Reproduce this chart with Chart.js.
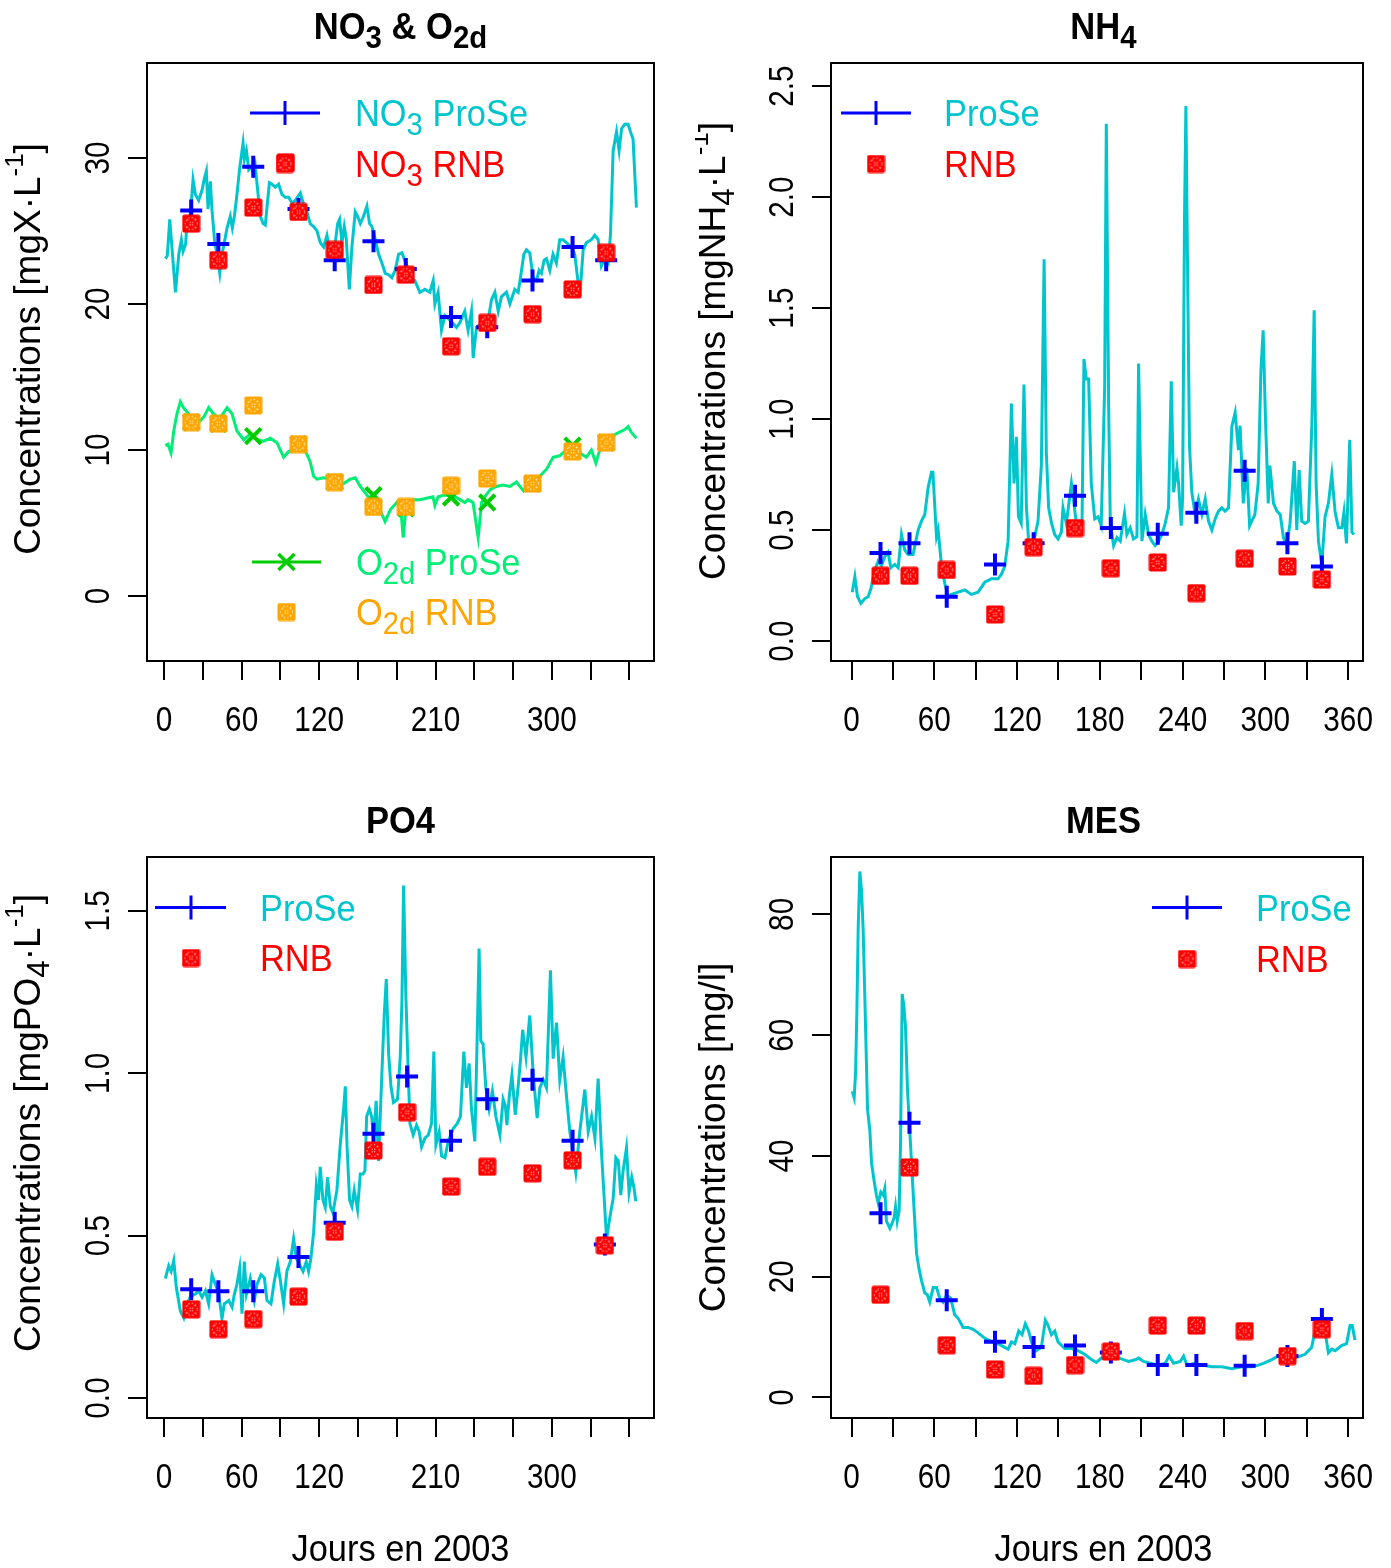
<!DOCTYPE html>
<html lang="fr">
<head>
<meta charset="utf-8">
<title>ProSe / RNB 2003</title>
<script src="https://cdn.jsdelivr.net/npm/chart.js@4.4.1/dist/chart.umd.min.js"></script>
<style>
  html, body { margin: 0; padding: 0; background: #fff; }
  #page { position: relative; width: 1391px; height: 1568px; overflow: hidden; }
  #page canvas { position: absolute; }
</style>
</head>
<body>
<div id="page">
  <canvas id="pNO3" width="695" height="784" style="left:0;top:0"></canvas>
  <canvas id="pNH4" width="696" height="784" style="left:695px;top:0"></canvas>
  <canvas id="pPO4" width="695" height="784" style="left:0;top:784px"></canvas>
  <canvas id="pMES" width="696" height="784" style="left:695px;top:784px"></canvas>
</div>
<script>
// =====================================================
// DATA
// =====================================================
const dayTicks = [0, 30, 60, 90, 120, 150, 180, 210, 240, 270, 300, 330, 360];
const dayLabelsLeft = [0, 60, 120, 210, 300];
const dayLabelsRight = [0, 60, 120, 180, 240, 300, 360];
const yTicksNO3 = [0, 10, 20, 30];
const yTicksNH4 = [0, 0.5, 1, 1.5, 2, 2.5];
const yTicksPO4 = [0, 0.5, 1, 1.5];
const yTicksMES = [0, 20, 40, 60, 80];

// sampling days (RNB stations)
const obsDaysNO3 = [21, 42, 69, 94, 104, 132, 162, 187, 222, 250, 285, 316, 342];
const obsDays = [21, 42, 69, 104, 132, 162, 188, 222, 250, 285, 316, 341];

// NO3 & O2d
const no3Prose = [26.4, 24.1, 29.4, null, 26.5, 23.0, 24.3, 22.4, 19.1, 18.4, 21.6, 23.9, 23.0];
const no3Rnb = [25.5, 23.0, 26.6, 29.7, 26.3, 23.7, 21.3, 22.0, 17.1, 18.7, 19.3, 21.0, 23.5];
const o2Prose = [11.9, 11.8, 10.95, null, 10.4, 7.8, 6.9, 6.0, 6.75, 6.4, 7.7, 10.3, 10.5];
const o2Rnb = [11.9, 11.8, 13.05, null, 10.4, 7.8, 6.1, 6.1, 7.55, 8.05, 7.7, 9.9, 10.5];
// NH4
const nh4Prose = [0.397, 0.44, 0.199, 0.345, 0.44, 0.655, 0.509, 0.483, 0.578, 0.767, 0.44, 0.336];
const nh4Rnb = [0.294, 0.294, 0.32, 0.12, 0.423, 0.509, 0.328, 0.354, 0.216, 0.371, 0.336, 0.277];
// PO4
const po4Prose = [0.335, 0.329, 0.329, 0.434, 0.54, 0.814, 0.99, 0.792, 0.92, 0.98, 0.792, 0.473];
const po4Rnb = [0.273, 0.212, 0.243, 0.312, 0.512, 0.762, 0.88, 0.651, 0.712, 0.692, 0.732, 0.47];
// MES
const mesProse = [30.5, 45.5, 16.1, 9.24, 8.34, 8.6, 7.45, 5.36, 5.36, 5.25, 6.85, 13.0];
const mesRnb = [17.0, 38.1, 8.64, 4.65, 3.58, 5.36, 7.6, 11.9, 11.9, 11.0, 6.85, 11.3];

// simulated (ProSe) series, [day, value]
const no3Sim = [[1,23.1],[2.5,23.3],[4.4,25.8],[8.8,20.8],[11.4,23.4],[13.4,24.4],[14.7,23.6],[16.7,24.1],[17.6,25.5],[19.1,25.8],[20.4,26.2],[22.4,28.5],[24.2,27.5],[26.8,27.1],[29.4,27.8],[31.2,28.6],[32.7,29.1],[34,26.5],[35.8,28.4],[37.1,26.4],[39.2,24.2],[41,23.4],[43.1,22.1],[44.8,23.4],[46.6,24.2],[48.7,25.2],[51.2,26.0],[52.8,25.2],[54.4,26.0],[55.9,27.1],[58.5,29.3],[61.1,31.0],[62.1,29.9],[63.7,30.5],[65.5,29.2],[67.3,29.4],[69.3,28.9],[70.6,29.4],[72.4,27.8],[74.5,26.0],[76.6,25.5],[78.3,25.4],[79.6,26.6],[81.5,28.3],[83.5,28.2],[86,28.0],[88.6,28.2],[91.2,27.5],[93.8,27.3],[96.4,27.3],[99,26.9],[101.5,27.1],[105.4,27.6],[108,26.8],[110.6,26.3],[113.1,25.5],[115.7,25.3],[118.3,25.0],[120.8,24.2],[123.4,23.9],[126,24.7],[128,23.7],[129.9,23.4],[132.4,24.2],[134.3,25.5],[135.8,25.8],[137.6,24.2],[139.4,25.3],[140.9,24.5],[143.3,21.0],[145.3,23.9],[147.9,26.3],[149.7,26.0],[151.8,25.5],[154.3,26.0],[156.9,26.7],[159,25.5],[160.8,25.3],[163.4,24.4],[166,23.4],[168.5,22.8],[171.1,22.1],[173.7,22.0],[176.2,21.8],[178.8,22.3],[181.4,23.4],[184,23.5],[187.9,22.6],[190.2,21.8],[194,21.6],[197.9,20.8],[201.8,21.0],[205.6,20.8],[208.2,21.6],[209.5,20.0],[212,20.8],[214.6,18.2],[217.2,19.2],[221.1,18.9],[226.2,18.4],[228.7,18.7],[232.6,19.5],[235.2,18.2],[237.8,19.5],[239.1,16.3],[241.7,18.4],[245.6,18.7],[249.4,18.2],[253.3,20.3],[255.9,20.8],[258.5,19.5],[261,20.5],[264.9,20.8],[267.5,20.0],[271.3,21.0],[273.9,20.8],[275.7,21.8],[278.3,23.4],[280.3,23.7],[282.9,23.5],[285.5,21.8],[288.1,21.6],[290.1,22.3],[291.9,22.1],[294,23.0],[295.8,23.1],[298.4,22.3],[300.9,23.4],[303.5,22.8],[306.1,24.4],[308.7,24.4],[311.2,24.2],[315.1,23.9],[317.7,23.4],[321.6,20.5],[324.2,23.7],[326.7,24.2],[330.6,24.4],[333.2,24.7],[335.8,24.4],[338.3,22.6],[340.9,23.1],[343.5,22.8],[345.3,24.7],[347.4,30.5],[350,31.8],[352,30.5],[353.9,32.0],[356.4,32.3],[359,32.3],[360.8,31.8],[362.8,31.3],[365.4,26.6]];

const o2Sim = [[1,10.3],[3,10.4],[5.4,9.8],[7.5,11.3],[10,12.5],[12.6,13.3],[15,12.9],[17.8,12.6],[23,12.0],[28,12.0],[31,12.3],[34.5,12.9],[38,12.5],[42,12.2],[45,12.4],[48.7,12.9],[52.5,12.5],[56.4,11.3],[61.6,10.7],[66.8,11.1],[71.9,10.7],[77,10.6],[82.2,10.8],[87.4,10.5],[92.5,9.5],[96.4,9.9],[101.5,10.0],[105.4,10.3],[109,10.0],[113,9.2],[115.7,8.2],[118.3,8.0],[123.4,8.1],[128.6,8.0],[133.7,7.7],[138.9,7.7],[144,8.0],[147.9,8.1],[151.8,7.5],[157,6.9],[162,6.4],[167,5.9],[171,5.1],[175,5.9],[180,6.4],[183,6.1],[185,4.0],[187.5,6.4],[192.8,6.6],[198,6.6],[203,6.7],[208,6.8],[209.5,6.2],[212,6.8],[216,6.9],[220,6.9],[225,6.8],[229,6.6],[232.7,6.4],[235,6.6],[239,6.4],[243,4.0],[245.6,6.4],[248,6.8],[252.5,7.3],[257,7.5],[262,7.6],[267.5,7.5],[272.6,7.8],[278,7.2],[282,7.7],[286,7.8],[290.7,8.2],[296,8.7],[301,9.5],[306,9.6],[311.2,10.0],[316,9.8],[321.6,9.8],[326.7,9.5],[330.6,10.0],[334,9.1],[338.4,10.4],[342.2,10.5],[347.4,11.0],[352,11.2],[356.4,11.4],[359,11.6],[361.5,11.2],[365.4,10.8]];

const nh4Sim = [[0.5,0.22],[2.4,0.29],[4.3,0.2],[6.8,0.17],[9.5,0.19],[12.1,0.20],[14.2,0.24],[16.4,0.31],[19.3,0.36],[21.7,0.34],[24.1,0.38],[26.5,0.40],[28.5,0.33],[31.4,0.345],[33.8,0.33],[36.2,0.48],[38.6,0.41],[41,0.39],[44.6,0.39],[48.3,0.50],[50.7,0.54],[53.1,0.57],[55.5,0.69],[57.9,0.76],[59,0.76],[60.4,0.6],[61.6,0.47],[62.8,0.50],[64,0.42],[65.2,0.34],[67.6,0.26],[70,0.2],[72.4,0.21],[77.3,0.22],[82.1,0.23],[86.9,0.21],[91.7,0.22],[96.6,0.265],[101.4,0.28],[106.2,0.28],[108.6,0.30],[111,0.335],[113.5,0.45],[115.9,1.07],[117.8,0.71],[119.5,0.92],[121,0.56],[123,0.53],[125,1.155],[126.8,0.6],[128.4,0.45],[130.4,0.43],[132.8,0.47],[135.2,0.54],[137.6,0.79],[139.6,1.72],[141.2,0.85],[142.9,0.6],[145,0.53],[147.3,0.48],[149.7,0.46],[152.1,0.49],[153.3,0.60],[155.7,0.53],[159.4,0.71],[163,0.53],[165.4,0.53],[167.1,0.53],[168.5,1.27],[170.2,1.18],[171.9,1.18],[173.8,0.71],[176.3,0.55],[178.7,0.56],[181,0.52],[183.5,1.14],[184.7,2.33],[186.4,1.05],[187.6,0.53],[190,0.43],[192.4,0.466],[194.8,0.45],[197.9,0.575],[199.6,0.48],[202,0.51],[204.4,0.46],[206.9,0.47],[208.1,1.25],[209.3,0.83],[210.5,0.45],[212.9,0.57],[215.3,0.48],[217.7,0.45],[220.1,0.43],[222.5,0.45],[225,0.48],[227.4,0.53],[229.8,0.6],[231.8,1.17],[233.5,0.67],[235.9,0.78],[237.1,0.71],[239,0.52],[240,0.64],[241.4,1.91],[242.4,2.41],[243.8,1.57],[245,0.88],[246.7,0.67],[249.1,0.57],[251.5,0.64],[254,0.57],[256.4,0.64],[258.8,0.54],[261.2,0.50],[263.6,0.55],[266,0.585],[268.4,0.6],[270.8,0.585],[273.3,0.6],[275.7,0.966],[278.1,1.03],[280.5,0.86],[281.7,0.97],[284,0.62],[286.5,0.78],[288.6,0.52],[292.4,0.57],[294.8,0.71],[296.8,1.22],[298.4,1.40],[300.1,1.0],[302.1,0.62],[303.3,0.79],[305.9,0.62],[308.4,0.585],[310.8,0.57],[313.1,0.466],[315.5,0.43],[317.9,0.53],[321,0.81],[322.8,0.50],[324.5,0.77],[326.4,0.54],[328.8,0.53],[331.2,0.54],[333.7,0.97],[335.4,1.49],[336.8,0.71],[338.5,0.45],[340.9,0.345],[343.3,0.56],[345.7,0.62],[348.2,0.75],[350.6,0.58],[353,0.51],[355.5,0.51],[357,0.58],[358.8,0.44],[361.2,0.906],[362.8,0.49],[364.3,0.48]];

const po4Sim = [[1,0.368],[3.6,0.407],[5.5,0.39],[7.5,0.423],[9.5,0.34],[12.6,0.268],[15.2,0.247],[17.8,0.29],[20.4,0.312],[24.2,0.32],[26.8,0.33],[29.4,0.31],[32,0.33],[34.5,0.29],[37.1,0.379],[39.7,0.35],[42.3,0.32],[44.8,0.244],[46.6,0.29],[50,0.30],[52.6,0.28],[54.4,0.32],[56.4,0.35],[58.5,0.40],[60.3,0.26],[62.1,0.42],[63.7,0.32],[66.7,0.368],[69.8,0.30],[71.9,0.35],[75,0.38],[77.6,0.37],[79.6,0.30],[82.7,0.29],[85.3,0.36],[87.9,0.413],[90,0.36],[92.5,0.29],[95,0.39],[97.7,0.42],[100.2,0.49],[102.3,0.43],[104.9,0.41],[107.5,0.39],[110,0.42],[111.8,0.39],[113.6,0.43],[115.7,0.51],[117.8,0.656],[119.5,0.61],[120.8,0.712],[122.9,0.61],[124.7,0.587],[126.5,0.68],[128.6,0.59],[130.6,0.57],[133.7,0.64],[136.3,0.78],[138.9,0.89],[140.2,0.96],[141.5,0.78],[143.5,0.61],[145.3,0.59],[147.1,0.64],[149.7,0.58],[151.8,0.69],[153.9,0.69],[155.4,0.70],[156.7,0.867],[158.8,0.89],[160.6,0.867],[162,0.80],[164.1,0.915],[165.9,0.73],[168.5,1.0],[170.3,1.178],[171.9,1.29],[173.7,1.06],[175.5,0.96],[177.5,0.91],[180.6,0.92],[182.7,1.05],[184,1.22],[185.3,1.578],[187,1.245],[188.9,1.0],[190.2,0.845],[192.7,0.81],[195.3,0.84],[197.4,0.82],[199.2,0.773],[201.8,0.80],[204.4,0.81],[206.9,0.845],[208.7,1.067],[210.3,0.78],[212.8,0.82],[214.7,0.745],[217.3,0.74],[219.8,0.79],[223.7,0.83],[226.7,0.845],[229.3,0.867],[231.9,1.067],[233.9,0.955],[236,1.03],[237.8,0.89],[240.4,0.79],[242.2,1.11],[243.7,1.384],[245,1.10],[246.8,1.09],[248.9,0.955],[251.5,0.89],[254,0.945],[256.7,0.867],[259.8,0.81],[262.3,0.92],[264,0.90],[265.2,0.84],[267.1,0.93],[269.1,0.995],[271.7,0.872],[273.8,0.955],[275.6,1.034],[277.4,1.134],[280,1.05],[282.9,1.178],[285.5,1.0],[288.6,0.862],[290.7,0.955],[293.3,0.98],[295.8,0.955],[298.9,1.317],[301,1.045],[303.6,1.156],[306.1,0.98],[308.7,1.05],[311.3,0.93],[313.9,0.82],[316.4,0.756],[318.5,0.695],[321.6,0.82],[325.5,0.95],[328.1,0.82],[330.7,0.867],[333.3,0.80],[335.8,0.984],[338.4,0.756],[341,0.579],[342.3,0.49],[344.9,0.557],[347.4,0.614],[349.5,0.74],[351.4,0.73],[353.3,0.625],[355.1,0.70],[357.7,0.77],[359.7,0.633],[361.8,0.68],[363.6,0.645],[364.9,0.606]];

const mesSim = [[0.5,50.7],[1.9,49.6],[2.9,53.7],[3.9,64.4],[4.8,77.6],[6.0,87.1],[7.2,84.0],[8.4,77.6],[9.7,65.6],[11.6,47.7],[13.3,44.1],[14.5,38.8],[16.4,35.8],[18.1,33.4],[19.3,32.2],[21.2,34.0],[22.9,33.5],[24.1,34.6],[25.3,29.2],[27.8,28.0],[29.5,28.9],[30.9,29.8],[31.9,31.6],[33.1,29.2],[34.5,30.9],[35.5,41.8],[36.7,66.8],[37.9,65.0],[39.1,61.4],[40.6,50.7],[41.8,45.9],[43.5,38.8],[45.4,30.9],[47.1,23.9],[48.8,21.5],[50.7,19.4],[53.1,17.3],[55,17.0],[56.7,15.8],[59.2,18.2],[61.6,18.2],[64,16.4],[66.4,15.8],[68.8,17.0],[71.9,16.4],[74.8,13.7],[77.3,13.1],[80.9,11.6],[84.5,11.6],[88.1,11.3],[91.8,10.7],[96.6,9.8],[101.4,9.25],[106.2,8.9],[111,8.3],[113.5,8.0],[116,9.2],[118.4,8.9],[121.2,11.0],[123.6,10.4],[126,12.2],[128.4,11.0],[130.4,9.2],[134,7.75],[137.6,8.3],[140.5,12.8],[142.4,12.0],[144.9,10.4],[147.3,11.0],[149.7,9.2],[154.5,8.1],[159.4,8.1],[164.2,7.75],[169,7.15],[173.9,6.3],[177.5,5.8],[181,6.5],[187.6,6.85],[193.6,6.55],[200.9,5.96],[205.7,6.25],[208.1,6.55],[211.7,5.96],[216.6,5.66],[222.5,5.36],[227.4,5.66],[230.3,6.85],[233.4,5.66],[238.3,5.96],[240.7,6.85],[243.1,5.36],[249.1,5.66],[253.9,5.36],[261.2,5.07],[268.4,5.07],[275.7,4.77],[282.9,5.07],[290.2,5.07],[295,5.36],[298.6,5.66],[304.7,6.25],[309,6.85],[314.3,7.15],[321.6,6.55],[328.8,7.15],[333.6,8.3],[337.3,12.5],[339.7,10.9],[343.3,10.9],[345.7,7.4],[348.2,8.0],[350.5,7.75],[355.3,8.6],[358.9,8.9],[361.4,11.9],[363,11.9],[365,9.5]];

// =====================================================
// STYLE
// =====================================================
const FONT = '"Liberation Sans", Arial, Helvetica, sans-serif';
const CYAN = '#00C5CD';
const SPRING = '#00EE76';
const GREEN = '#00CD00';
const BLUE = '#0000FF';
const RED = '#FF0000';
const ORANGE = '#FFA500';
// text sizes and horizontal squeeze (the original font is slightly condensed)
const TICK = { size: 35, sx: 0.85 };
const TITLE = { size: 36, sx: 0.96, bold: true };
const YLAB = { size: 37, sx: 1.0 };
const XLAB = { size: 36, sx: 0.955 };
const LEG = { size: 37, sx: 0.93 };

// RNB marker: filled square with a faint circled cross
function rnbMarker(fill, pattern) {
    const c = document.createElement('canvas');
    c.width = 19; c.height = 19;
    const g = c.getContext('2d');
    g.fillStyle = fill;
    g.beginPath();
    if (g.roundRect) g.roundRect(0.5, 0.5, 18, 18, 2); else g.rect(0.5, 0.5, 18, 18);
    g.fill();
    g.strokeStyle = pattern;
    g.lineWidth = 1.3;
    g.setLineDash([1.3, 2.2]);
    g.beginPath(); g.arc(9.5, 9.5, 6, 0, Math.PI * 2); g.stroke();
    g.beginPath();
    g.moveTo(5.3, 5.3); g.lineTo(13.7, 13.7);
    g.moveTo(13.7, 5.3); g.lineTo(5.3, 13.7);
    g.stroke();
    return c;
}
const redMark = rnbMarker(RED, 'rgba(255,190,190,0.8)');
const orangeMark = rnbMarker(ORANGE, 'rgba(255,240,190,0.85)');

// =====================================================
// HELPERS
// =====================================================
const xy = pairs => pairs.map(([x, y]) => ({ x, y }));
const obs = (days, vals) => days.map((d, i) => ({ x: d, y: vals[i] })).filter(p => p.y !== null);

function simLine(pairs, color) {
    return { data: xy(pairs), showLine: true, borderColor: color, borderWidth: 3,
             pointRadius: 0, tension: 0, order: 5 };
}
function crossPoints(data, color, rotated) {
    return { data, showLine: false, pointStyle: rotated ? 'crossRot' : 'cross',
             pointRadius: 11, pointBorderWidth: 4, pointBorderColor: color,
             pointBackgroundColor: color, order: 3 };
}
function rnbPoints(data, img) {
    return { data, showLine: false, pointStyle: img, pointRadius: 9, order: 1 };
}

// text with sub/superscripts: parts = [[text, 'sub'|'sup'|undefined], ...]
function richText(ctx, parts, x, y, o) {
    const fs = o.size;
    const w = o.bold ? 'bold ' : '';
    const fontOf = k => w + (k === 'sub' ? fs * 0.85 : k === 'sup' ? fs * 0.7 : fs) + 'px ' + FONT;
    ctx.save();
    ctx.translate(x, y);
    if (o.rotate) ctx.rotate(o.rotate);
    ctx.scale(o.sx || 1, 1);
    ctx.textBaseline = 'alphabetic';
    ctx.textAlign = 'left';
    ctx.fillStyle = o.color || '#000';
    let total = 0;
    const widths = parts.map(([t, k]) => { ctx.font = fontOf(k); const m = ctx.measureText(t).width; total += m; return m; });
    let cx = o.align === 'center' ? -total / 2 : 0;
    parts.forEach(([t, k], i) => {
        ctx.font = fontOf(k);
        const dy = k === 'sub' ? fs * 0.24 : k === 'sup' ? -fs * 0.45 : 0;
        ctx.fillText(t, cx, dy);
        cx += widths[i];
    });
    ctx.restore();
}

function drawLegend(ctx, lg) {
    lg.rows.forEach(r => {
        if (r.line) {
            ctx.strokeStyle = r.line; ctx.lineWidth = 3;
            ctx.beginPath(); ctx.moveTo(lg.x0, r.y); ctx.lineTo(lg.x1, r.y); ctx.stroke();
        }
        if (r.sym === 'plus') {
            ctx.strokeStyle = BLUE; ctx.lineWidth = 3;
            ctx.beginPath(); ctx.moveTo(lg.sx, r.y - 12); ctx.lineTo(lg.sx, r.y + 12); ctx.stroke();
        } else if (r.sym === 'x') {
            ctx.strokeStyle = GREEN; ctx.lineWidth = 3.5;
            ctx.beginPath();
            ctx.moveTo(lg.sx - 8, r.y - 8); ctx.lineTo(lg.sx + 8, r.y + 8);
            ctx.moveTo(lg.sx + 8, r.y - 8); ctx.lineTo(lg.sx - 8, r.y + 8);
            ctx.stroke();
        } else if (r.sym) {
            ctx.drawImage(r.sym, lg.sx - r.sym.width / 2, r.y - r.sym.height / 2);
        }
        richText(ctx, r.text, lg.tx, r.y + 13, Object.assign({ color: r.color }, LEG));
    });
}

// per-chart decoration plugin: box, tick labels, titles, legend
function decor(p) {
    return {
        id: 'decor',
        afterDraw(chart) {
            const ctx = chart.ctx, a = chart.chartArea;
            const xs = chart.scales.x, ys = chart.scales.y;
            ctx.save();
            ctx.strokeStyle = '#000'; ctx.lineWidth = 2;
            ctx.strokeRect(a.left, a.top, a.right - a.left, a.bottom - a.top);

            xs.ticks.forEach(t => {
                if (p.xShown.includes(t.value))
                    richText(ctx, [[String(t.value)]], xs.getPixelForValue(t.value), p.xTickBase, Object.assign({ align: 'center' }, TICK));
            });
            ys.ticks.forEach(t => {
                const lab = p.yDigits ? t.value.toFixed(p.yDigits) : String(t.value);
                richText(ctx, [[lab]], p.yTickBase, ys.getPixelForValue(t.value), Object.assign({ align: 'center', rotate: -Math.PI / 2 }, TICK));
            });

            richText(ctx, p.title, p.titleX, p.titleBase, Object.assign({ align: 'center' }, TITLE));
            richText(ctx, p.ylab, p.ylabBase, p.ylabY, Object.assign({ align: 'center', rotate: -Math.PI / 2 }, YLAB));
            if (p.xlab) richText(ctx, [[p.xlab]], p.titleX, p.xlabBase, Object.assign({ align: 'center' }, XLAB));
            p.legends.forEach(lg => drawLegend(ctx, lg));
            ctx.restore();
        }
    };
}

const axisGrid = { drawOnChartArea: false, drawTicks: true, tickLength: 19, color: '#000', lineWidth: 2 };

function buildPanel(id, p) {
    const cv = document.getElementById(id);
    const W = cv.width, H = cv.height, A = p.area;
    return new Chart(cv, {
        type: 'scatter',
        data: { datasets: p.datasets },
        options: {
            responsive: false,
            animation: false,
            events: [],
            layout: { padding: { left: 0, top: A.t, right: W - A.r, bottom: 0 } },
            plugins: { legend: { display: false }, tooltip: { enabled: false } },
            scales: {
                x: {
                    type: 'linear', min: p.xMin, max: p.xMax,
                    afterBuildTicks: s => { s.ticks = dayTicks.map(v => ({ value: v })); },
                    afterFit: s => { s.height = H - A.b; },
                    grid: axisGrid, border: { display: false }, ticks: { display: false }
                },
                y: {
                    type: 'linear', min: p.yMin, max: p.yMax,
                    afterBuildTicks: s => { s.ticks = p.yTicks.map(v => ({ value: v })); },
                    afterFit: s => { s.width = A.l; },
                    grid: axisGrid, border: { display: false }, ticks: { display: false }
                }
            }
        },
        plugins: [decor(p)]
    });
}

// =====================================================
// PANELS
// =====================================================
buildPanel('pNO3', {
    area: { l: 147, t: 63, r: 654, b: 661 },
    xMin: -13.2, xMax: 379, yMin: -4.45, yMax: 36.5, yTicks: yTicksNO3,
    xShown: dayLabelsLeft, xTickBase: 731, yTickBase: 109,
    title: [['NO'], ['3', 'sub'], [' & O'], ['2d', 'sub']], titleX: 400.5, titleBase: 39,
    ylab: [['Concentrations [mgX\u00B7L'], ['-1', 'sup'], [']']], ylabBase: 40, ylabY: 349,
    datasets: [
        rnbPoints(obs(obsDaysNO3, no3Rnb), redMark),
        crossPoints(obs(obsDaysNO3, no3Prose), BLUE, false),
        rnbPoints(obs(obsDaysNO3, o2Rnb), orangeMark),
        crossPoints(obs(obsDaysNO3, o2Prose), GREEN, true),
        simLine(no3Sim, CYAN),
        simLine(o2Sim, SPRING)
    ],
    legends: [
        { x0: 250, x1: 320, sx: 285, tx: 355, rows: [
            { y: 113, line: BLUE, sym: 'plus', color: CYAN, text: [['NO'], ['3', 'sub'], [' ProSe']] },
            { y: 164, sym: redMark, color: RED, text: [['NO'], ['3', 'sub'], [' RNB']] }
        ] },
        { x0: 252, x1: 321, sx: 286.5, tx: 356, rows: [
            { y: 562, line: GREEN, sym: 'x', color: SPRING, text: [['O'], ['2d', 'sub'], [' ProSe']] },
            { y: 612, sym: orangeMark, color: ORANGE, text: [['O'], ['2d', 'sub'], [' RNB']] }
        ] }
    ]
});

buildPanel('pNH4', {
    area: { l: 136, t: 63, r: 668, b: 661 },
    xMin: -14.9, xMax: 370.8, yMin: -0.09, yMax: 2.604, yTicks: yTicksNH4, yDigits: 1,
    xShown: dayLabelsRight, xTickBase: 731, yTickBase: 97.5,
    title: [['NH'], ['4', 'sub']], titleX: 408.5, titleBase: 39,
    ylab: [['Concentrations [mgNH'], ['4', 'sub'], ['\u00B7L'], ['-1', 'sup'], [']']], ylabBase: 30, ylabY: 351,
    datasets: [
        rnbPoints(obs(obsDays, nh4Rnb), redMark),
        crossPoints(obs(obsDays, nh4Prose), BLUE, false),
        simLine(nh4Sim, CYAN)
    ],
    legends: [
        { x0: 146, x1: 216, sx: 181, tx: 249, rows: [
            { y: 113, line: BLUE, sym: 'plus', color: CYAN, text: [['ProSe']] },
            { y: 164, sym: redMark, color: RED, text: [['RNB']] }
        ] }
    ]
});

buildPanel('pPO4', {
    area: { l: 147, t: 73, r: 654, b: 634 },
    xMin: -13.2, xMax: 379, yMin: -0.0616, yMax: 1.666, yTicks: yTicksPO4, yDigits: 1,
    xShown: dayLabelsLeft, xTickBase: 703.5, yTickBase: 109,
    title: [['PO4']], titleX: 400.5, titleBase: 49,
    ylab: [['Concentrations [mgPO'], ['4', 'sub'], ['\u00B7L'], ['-1', 'sup'], [']']], ylabBase: 40, ylabY: 339,
    xlab: 'Jours en 2003', xlabBase: 777,
    datasets: [
        rnbPoints(obs(obsDays, po4Rnb), redMark),
        crossPoints(obs(obsDays, po4Prose), BLUE, false),
        simLine(po4Sim, CYAN)
    ],
    legends: [
        { x0: 155, x1: 226, sx: 191, tx: 260, rows: [
            { y: 123.5, line: BLUE, sym: 'plus', color: CYAN, text: [['ProSe']] },
            { y: 174, sym: redMark, color: RED, text: [['RNB']] }
        ] }
    ]
});

buildPanel('pMES', {
    area: { l: 136, t: 73, r: 668, b: 634 },
    xMin: -14.9, xMax: 370.8, yMin: -3.4, yMax: 89.5, yTicks: yTicksMES,
    xShown: dayLabelsRight, xTickBase: 703.5, yTickBase: 97.5,
    title: [['MES']], titleX: 408.5, titleBase: 49,
    ylab: [['Concentrations [mg/l]']], ylabBase: 30, ylabY: 353.5,
    xlab: 'Jours en 2003', xlabBase: 777,
    datasets: [
        rnbPoints(obs(obsDays, mesRnb), redMark),
        crossPoints(obs(obsDays, mesProse), BLUE, false),
        simLine(mesSim, CYAN)
    ],
    legends: [
        { x0: 457, x1: 527, sx: 492, tx: 561, rows: [
            { y: 123.5, line: BLUE, sym: 'plus', color: CYAN, text: [['ProSe']] },
            { y: 175, sym: redMark, color: RED, text: [['RNB']] }
        ] }
    ]
});
</script>
</body>
</html>
